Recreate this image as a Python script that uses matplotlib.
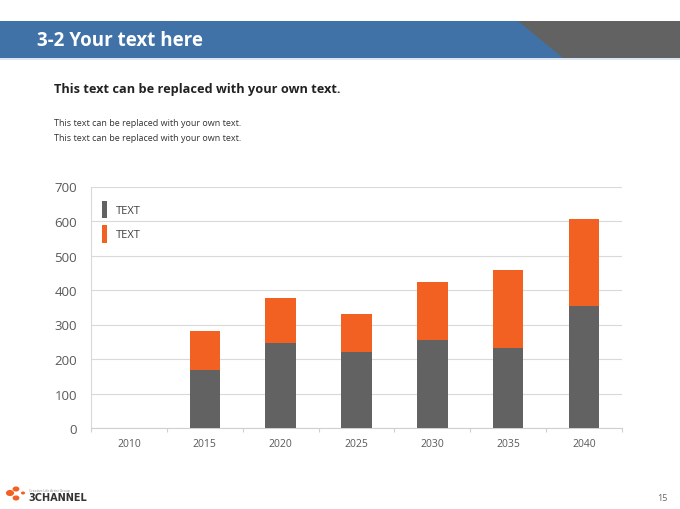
import matplotlib
matplotlib.use("Agg")
import matplotlib.pyplot as plt
from matplotlib.patches import Polygon, Rectangle, Circle, Patch

plt.rcParams['font.family'] = ['Open Sans', 'DejaVu Sans']

# data
years = ['2010', '2015', '2020', '2025', '2030', '2035', '2040']
gray_vals = [0, 168, 245, 220, 256, 232, 355]
orange_vals = [0, 113, 131, 109, 168, 225, 252]
y_ticks = [0, 100, 200, 300, 400, 500, 600, 700]
legend_labels = ['TEXT', 'TEXT']

GRAY = '#626262'
ORANGE = '#f26122'
BLUE = '#4072a8'
W, H = 680, 510

fig = plt.figure(figsize=(6.8, 5.1), dpi=100)
fig.patch.set_facecolor('white')

def fx(px):
    return px / W

def fy(py):
    return 1 - py / H

# header band
fig.patches.append(Rectangle((0, fy(59)), 1, fy(22) - fy(59), transform=fig.transFigure,
                             facecolor=GRAY, edgecolor='none'))
fig.patches.append(Polygon([(0, fy(22)), (fx(518), fy(22)), (fx(563), fy(59)), (0, fy(59))],
                           closed=True, transform=fig.transFigure, facecolor=BLUE, edgecolor='none'))
fig.patches.append(Rectangle((0, fy(61)), 1, fy(59) - fy(61), transform=fig.transFigure,
                             facecolor='#dce6f0', edgecolor='none'))
fig.text(fx(37), fy(41), '3-2 Your text here', color='white', fontsize=13.5, fontweight='bold',
         va='center', ha='left')

# subtitle and body text
fig.text(fx(54), fy(90), 'This text can be replaced with your own text.', color='#222222',
         fontsize=9.2, fontweight='bold', va='center', ha='left')
fig.text(fx(54), fy(124), 'This text can be replaced with your own text.', color='#333333',
         fontsize=6.5, va='center', ha='left')
fig.text(fx(54), fy(139), 'This text can be replaced with your own text.', color='#333333',
         fontsize=6.5, va='center', ha='left')

# chart
ax = fig.add_axes([fx(91), fy(429), fx(622) - fx(91), fy(187.5) - fy(429)])
x = list(range(len(years)))
ax.bar(x, gray_vals, width=0.4, color=GRAY, zorder=3)
ax.bar(x, orange_vals, width=0.4, bottom=gray_vals, color=ORANGE, zorder=3)

ax.set_xlim(-0.5, len(years) - 0.5)
ax.set_ylim(0, 700)
ax.set_yticks(y_ticks)
ax.set_yticklabels([str(v) for v in y_ticks], color='#595959', fontsize=9.5)
ax.tick_params(axis='y', length=0, pad=10)
ax.set_xticks([i - 0.5 for i in range(len(years) + 1)], minor=False)
ax.set_xticklabels([])
ax.set_xticks(x, minor=True)
ax.set_xticklabels(years, minor=True, color='#595959', fontsize=7.5)
ax.tick_params(axis='x', which='major', length=3, color='#d0d0d0', width=0.8)
ax.tick_params(axis='x', which='minor', length=0, pad=7)

ax.grid(axis='y', color='#d9d9d9', linewidth=0.8, zorder=0)
for s in ['top', 'right']:
    ax.spines[s].set_visible(False)
ax.spines['left'].set_color('#d9d9d9')
ax.spines['bottom'].set_color('#d0d0d0')
ax.spines['left'].set_linewidth(0.8)
ax.spines['bottom'].set_linewidth(0.8)

handles = [Patch(facecolor=GRAY, edgecolor='none'), Patch(facecolor=ORANGE, edgecolor='none')]
leg = ax.legend(handles, legend_labels, loc='upper left', bbox_to_anchor=(11 / 531, 1 - 14 / 241.5),
                frameon=False, fontsize=8, handlelength=0.45, handleheight=2.1,
                handletextpad=0.8, labelspacing=0.6, borderpad=0, borderaxespad=0)
for t in leg.get_texts():
    t.set_color('#404040')

# footer logo
for cx, cy, r in [(fx(10), fy(494), 0.006), (fx(16), fy(490), 0.005), (fx(16), fy(499), 0.005),
                  (fx(23), fy(494), 0.003)]:
    fig.patches.append(Circle((cx, cy), r, transform=fig.transFigure, facecolor=ORANGE,
                              edgecolor='none'))
fig.text(fx(29), fy(491), 'Creative Life Artist Group', color='#888888', fontsize=2.5,
         va='center', ha='left')
fig.text(fx(28), fy(498), '3CHANNEL', color='#333333', fontsize=7, fontweight='bold',
         family='DejaVu Sans', va='center', ha='left')
fig.text(fx(668), fy(499), '15', color='#666666', fontsize=6.5, va='center', ha='right')

fig.savefig('out.png', dpi=100, facecolor='white')
